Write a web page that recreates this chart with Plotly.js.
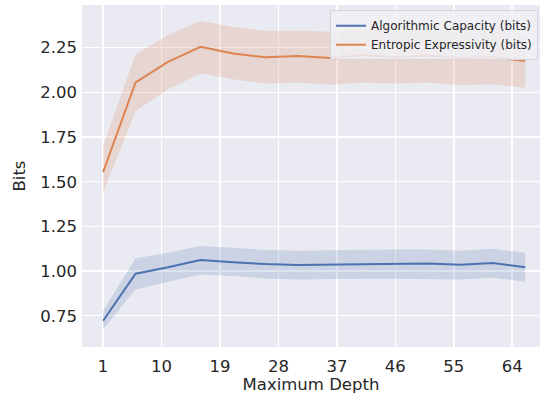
<!DOCTYPE html>
<html>
<head>
<meta charset="utf-8">
<script src="https://cdn.plot.ly/plotly-3.0.1.min.js"></script>
<style>html,body{margin:0;padding:0;background:#fff;}#chart{width:540px;height:401px;}</style>
</head>
<body>
<div id="chart"></div>
<script>
const depth = [1, 6, 11, 16, 21, 26, 31, 36, 41, 46, 51, 56, 61, 66];

const capacityMean  = [0.722, 0.985, 1.021, 1.062, 1.050, 1.039, 1.034, 1.037, 1.039, 1.041, 1.043, 1.035, 1.045, 1.021];
const capacityUpper = [0.778, 1.071, 1.102, 1.140, 1.130, 1.118, 1.114, 1.118, 1.119, 1.121, 1.121, 1.114, 1.125, 1.102];
const capacityLower = [0.674, 0.897, 0.940, 0.981, 0.972, 0.959, 0.953, 0.957, 0.957, 0.957, 0.957, 0.953, 0.963, 0.940];

const expressMean  = [1.554, 2.056, 2.171, 2.255, 2.218, 2.196, 2.203, 2.192, 2.209, 2.196, 2.207, 2.192, 2.198, 2.175];
const expressUpper = [1.700, 2.214, 2.320, 2.400, 2.367, 2.343, 2.345, 2.339, 2.350, 2.340, 2.350, 2.340, 2.340, 2.325];
const expressLower = [1.440, 1.895, 2.017, 2.106, 2.074, 2.050, 2.055, 2.043, 2.055, 2.050, 2.055, 2.040, 2.046, 2.026];

const xTicks = [1, 10, 19, 28, 37, 46, 55, 64];
const yTicks = [0.75, 1.00, 1.25, 1.50, 1.75, 2.00, 2.25];

const blue = '#4C72B0', orange = '#DD8452';
const font = "'DejaVu Sans', sans-serif";

function band(lower, upper, color) {
  return [
    {x: depth, y: lower, mode: 'lines', line: {width: 0}, showlegend: false, hoverinfo: 'skip'},
    {x: depth, y: upper, mode: 'lines', line: {width: 0}, fill: 'tonexty', fillcolor: color, showlegend: false, hoverinfo: 'skip'}
  ];
}

const data = [
  ...band(capacityLower, capacityUpper, 'rgba(76,114,176,0.2)'),
  ...band(expressLower, expressUpper, 'rgba(221,132,82,0.2)'),
  {x: depth, y: capacityMean, mode: 'lines', name: 'Algorithmic Capacity (bits)', line: {color: blue, width: 2}},
  {x: depth, y: expressMean, mode: 'lines', name: 'Entropic Expressivity (bits)', line: {color: orange, width: 2}}
];

const layout = {
  width: 540, height: 401,
  margin: {l: 82, r: 0, t: 5, b: 54},
  paper_bgcolor: '#ffffff',
  plot_bgcolor: '#EAEAF2',
  font: {family: font, color: '#262626', size: 16.5},
  showlegend: true,
  legend: {
    x: 0.9956, xanchor: 'right', y: 0.985, yanchor: 'top',
    traceorder: 'normal',
    bgcolor: 'rgba(240,240,245,0.85)', bordercolor: '#d4d4dc', borderwidth: 1,
    font: {family: font, size: 12, color: '#262626'},
    tracegroupgap: 0
  },
  xaxis: {
    range: [-2.25, 68.28],
    tickvals: xTicks,
    ticktext: xTicks.map(String),
    showgrid: true, gridcolor: '#ffffff', gridwidth: 1.5,
    zeroline: false, showline: false, ticks: '',
    ticklabelstandoff: 7,
    tickfont: {size: 16.5},
    title: {text: 'Maximum Depth', font: {size: 16.5}, standoff: 2}
  },
  yaxis: {
    range: [0.575, 2.489],
    tickvals: yTicks,
    ticktext: yTicks.map(v => v.toFixed(2)),
    showgrid: true, gridcolor: '#ffffff', gridwidth: 1.5,
    zeroline: false, showline: false, ticks: '',
    ticklabelstandoff: 4,
    tickfont: {size: 16.5},
    title: {text: 'Bits', font: {size: 16.5}, standoff: 10}
  }
};

Plotly.newPlot('chart', data, layout, {displayModeBar: false, staticPlot: true});
</script>
</body>
</html>
